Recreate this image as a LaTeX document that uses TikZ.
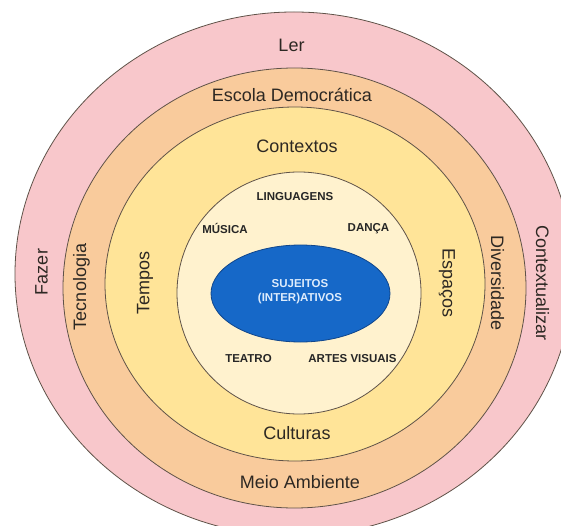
\documentclass[tikz,border=0pt]{standalone}
\usepackage{fontspec}
\setmainfont{Liberation Sans}
\usepackage{xcolor}
\usepackage{tikz}
\usetikzlibrary{positioning}

\definecolor{pinkring}{RGB}{248,199,203}
\definecolor{orangering}{RGB}{249,203,156}
\definecolor{yellowring}{RGB}{255,228,152}
\definecolor{creamring}{RGB}{255,242,206}
\definecolor{coreblue}{RGB}{22,104,200}
\definecolor{coreedge}{RGB}{16,70,140}
\definecolor{ringedge}{RGB}{95,82,72}
\definecolor{labeltext}{RGB}{45,40,35}
\definecolor{coretext}{RGB}{222,236,252}

\begin{document}
\begin{tikzpicture}[x=1pt,y=-1pt,
    ring/.style={draw=ringedge,line width=0.8pt},
    ringlabel/.style={text=labeltext,font=\fontsize{18}{20}\selectfont,inner sep=0pt},
    artlabel/.style={text=black!85,font=\fontsize{11.5}{13}\selectfont\bfseries,inner sep=0pt},
    corelabel/.style={text=coretext,font=\fontsize{11.5}{14.3}\selectfont\bfseries,align=center,inner sep=0pt}]
    \useasboundingbox (0,0) rectangle (561,526);
    \clip (0,0) rectangle (561,526);
    \fill[white] (0,0) rectangle (561,526);

    \filldraw[ring,fill=pinkring] (294,274) ellipse [x radius=279pt,y radius=262pt];
    \filldraw[ring,fill=orangering] (294.5,288) ellipse [x radius=231.5pt,y radius=220pt];
    \filldraw[ring,fill=yellowring] (295,284) ellipse [x radius=190pt,y radius=177pt];
    \filldraw[ring,fill=creamring] (299,293) ellipse [x radius=122pt,y radius=121pt];
    \filldraw[draw=coreedge,line width=0.8pt,fill=coreblue] (300.5,293.5) ellipse [x radius=89.5pt,y radius=48.5pt];

    \node[ringlabel] (ler) at (291.5,45) {Ler};
    \node[ringlabel,rotate=90] (fazer) at (41.5,272) {Fazer};
    \node[ringlabel,rotate=-90] (contextualizar) at (542.5,283) {Contextualizar};

    \node[ringlabel] (escola) at (292,95) {Escola Democrática};
    \node[ringlabel,rotate=90] (tecnologia) at (81.5,287) {Tecnologia};
    \node[ringlabel,rotate=-90] (diversidade) at (497.5,283) {Diversidade};
    \node[ringlabel] (meio) at (300,482.5) {Meio Ambiente};

    \node[ringlabel] (contextos) at (297,146.5) {Contextos};
    \node[ringlabel,rotate=90] (tempos) at (145,283) {Tempos};
    \node[ringlabel,rotate=-90] (espacos) at (447,283) {Espaços};
    \node[ringlabel] (culturas) at (297,433) {Culturas};

    \node[artlabel] (linguagens) at (295,196.5) {LINGUAGENS};
    \node[artlabel] (musica) at (225,228.5) {MÚSICA};
    \node[artlabel] (danca) at (368.5,228.5) {DANÇA};
    \node[artlabel] (teatro) at (248.5,358.5) {TEATRO};
    \node[artlabel] (artes) at (352.5,358.5) {ARTES VISUAIS};

    \node[corelabel] (sujeitos) at (300,292) {SUJEITOS\\(INTER)ATIVOS};
\end{tikzpicture}
\end{document}
